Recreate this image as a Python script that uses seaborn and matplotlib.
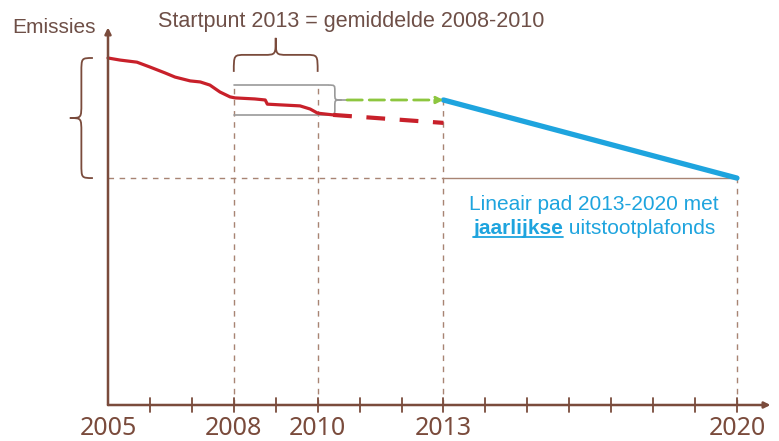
import numpy as np
import pandas as pd
import seaborn as sns
import matplotlib.pyplot as plt
from matplotlib.path import Path
from matplotlib.patches import PathPatch

# emissions index (2005 = 100)
hist_years = [2005.0, 2005.29, 2005.69, 2006.0, 2006.36, 2006.6, 2006.96, 2007.2, 2007.43,
              2007.67, 2007.91, 2008.03, 2008.5, 2008.75, 2008.8, 2009.1, 2009.58, 2009.82,
              2010.0, 2010.37]
hist_values = [100.0, 99.4, 98.8, 97.4, 95.7, 94.5, 93.4, 93.1, 92.2,
               90.2, 88.8, 88.5, 88.2, 87.9, 86.7, 86.5, 86.2, 85.3,
               84.1, 83.6]
trend_years = [2010.37, 2013.0]
trend_values = [83.6, 81.3]
cap_years = [2013, 2020]
cap_values = [87.9, 65.4]
box_low, box_high = 83.6, 92.2
ref_years = [2008, 2010]
tick_years = list(range(2005, 2021))
label_years = [2005, 2008, 2010, 2013, 2020]

brown = "#7a4b3c"
text_brown = "#6e4f47"
grid_col = "#a88473"
red = "#c8202a"
green = "#8dc63f"
blue = "#1ea4de"

sns.set_style("white")
plt.rcParams["font.family"] = ["Liberation Sans", "DejaVu Sans"]

fig = plt.figure(figsize=(7.79, 4.41), dpi=100)
ax = fig.add_axes([0, 0, 1, 1])
px_year = 41.93
px_unit = 3.47
ax.set_xlim(2005 - 108 / px_year, 2005 + 671 / px_year)
ax.set_ylim(-36 / px_unit, 100 + 58 / px_unit)
for s in ["top", "right", "left", "bottom"]:
    ax.spines[s].set_visible(False)


def brace(ax, a, b, pos, depth, vertical, color, lw=1.3, rf=0.12):
    m = (a + b) / 2
    h = depth / 2
    r = (b - a) * rf
    pts = [(a, pos), (a, pos + h), (a, pos + h), (a + r, pos + h),
           (m - r, pos + h), (m, pos + h), (m, pos + h), (m, pos + depth),
           (m, pos + h), (m, pos + h), (m + r, pos + h),
           (b - r, pos + h), (b, pos + h), (b, pos + h), (b, pos)]
    codes = [Path.MOVETO, Path.CURVE4, Path.CURVE4, Path.CURVE4,
             Path.LINETO, Path.CURVE4, Path.CURVE4, Path.CURVE4,
             Path.CURVE4, Path.CURVE4, Path.CURVE4,
             Path.LINETO, Path.CURVE4, Path.CURVE4, Path.CURVE4]
    if vertical:
        pts = [(c, s) for s, c in pts]
    ax.add_patch(PathPatch(Path(pts, codes), fc="none", ec=color, lw=lw))


start_level = (box_low + box_high) / 2
dash_grid = (0, (4, 4))

# reference dashed lines
ax.plot([2005, cap_years[0]], [cap_values[1]] * 2, color=grid_col, lw=1, ls=dash_grid)
ax.plot(cap_years, [cap_values[1]] * 2, color=grid_col, lw=1)
for yr in ref_years:
    ax.plot([yr, yr], [0, box_high], color=grid_col, lw=1, ls=dash_grid)
ax.plot([cap_years[0]] * 2, [0, cap_values[0]], color=grid_col, lw=1, ls=dash_grid)
ax.plot([cap_years[1]] * 2, [0, cap_values[1]], color=grid_col, lw=1, ls=dash_grid)

# averaging box 2008-2010
box_right = ref_years[1] + 0.25
for lvl in [box_low, box_high]:
    ax.plot([ref_years[0], box_right], [lvl, lvl], color="#9a9a9a", lw=1.2)
brace(ax, box_low, box_high, box_right, 0.32, True, "#9a9a9a", lw=1.2, rf=0.2)
ax.plot([box_right + 0.32, box_right + 0.45], [start_level] * 2, color="#9a9a9a", lw=1.2)

# emissions
sns.lineplot(x=hist_years, y=hist_values, ax=ax, color=red, lw=2.3)
sns.lineplot(x=trend_years, y=trend_values, ax=ax, color=red, lw=3, linestyle=(0, (4.5, 3.5)))
ax.annotate("", xy=(cap_years[0], start_level), xytext=(box_right + 0.45, start_level),
            arrowprops=dict(arrowstyle="-|>", color=green, lw=2, linestyle=(0, (5.5, 2.5)),
                            mutation_scale=10, shrinkA=0, shrinkB=0))
sns.lineplot(x=cap_years, y=cap_values, ax=ax, color=blue, lw=3.8)

# braces
brace(ax, ref_years[0], ref_years[1], 96.0, 9.8, False, brown, rf=0.14)
brace(ax, cap_values[1], 100.0, 2004.64, -0.55, True, brown, rf=0.12)

# axes with arrows
ax.annotate("", xy=(2005, 108.8), xytext=(2005, 0),
            arrowprops=dict(arrowstyle="-|>", color=brown, lw=1.8, mutation_scale=9, shrinkA=0, shrinkB=0))
ax.annotate("", xy=(2020.8, 0), xytext=(2005, 0),
            arrowprops=dict(arrowstyle="-|>", color=brown, lw=1.8, mutation_scale=9, shrinkA=0, shrinkB=0))
for yr in tick_years[1:]:
    ax.plot([yr, yr], [-2.0, 2.0], color=brown, lw=1.3)

ax.set_xticks([])
ax.set_yticks([])
for yr in label_years:
    ax.text(yr, -8.65, str(yr), ha="center", va="baseline", fontsize=18, color=brown,
            family="Noto Sans")

ax.text(2002.71, 107.2, "Emissies", ha="left", va="baseline", fontsize=15, color=text_brown)
ax.text(2006.19, 108.9, "Startpunt 2013 = gemiddelde 2008-2010", ha="left", va="baseline",
        fontsize=15.5, color=text_brown)

# blue annotation
ax.text(2016.59, 56.2, "Lineair pad 2013-2020 met", ha="center", va="baseline", fontsize=15,
        color=blue)
fig.canvas.draw()
r = fig.canvas.get_renderer()
t_rest = ax.text(0, 0, " uitstootplafonds", fontsize=15, color=blue, va="baseline")
t_bold = ax.text(0, 0, "jaarlijkse", fontsize=15, color=blue, fontweight="bold", va="baseline")
w_rest = t_rest.get_window_extent(r).width
w_bold = t_bold.get_window_extent(r).width
inv = ax.transData.inverted()
cx, cy = ax.transData.transform((2016.59, 49.3))
x0 = cx - (w_rest + w_bold) / 2
t_bold.set_position(inv.transform((x0, cy)))
t_rest.set_position(inv.transform((x0 + w_bold, cy)))
u0 = inv.transform((x0, cy - 3.5))
u1 = inv.transform((x0 + w_bold, cy - 3.5))
ax.plot([u0[0], u1[0]], [u0[1], u1[1]], color=blue, lw=1.3)

fig.savefig("out.png", dpi=100)
